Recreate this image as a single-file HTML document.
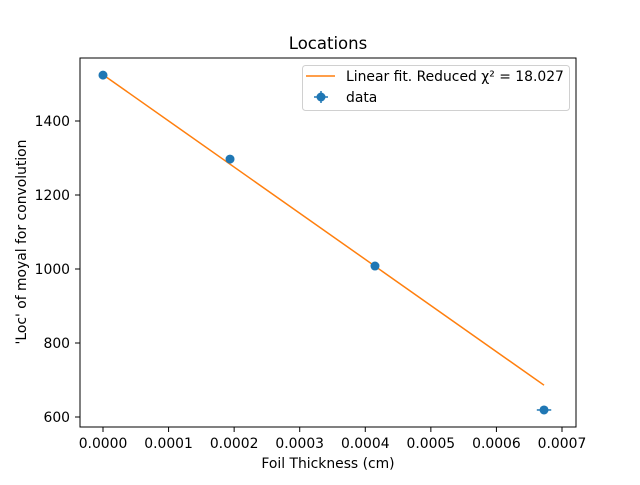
<!DOCTYPE html>
<html><head><meta charset="utf-8"><style>
body{margin:0;background:#fff}
svg text{font-family:"DejaVu Sans","Liberation Sans",sans-serif;fill:#000}
</style></head><body>
<svg id="chart" width="640" height="480" xmlns="http://www.w3.org/2000/svg">
<rect width="640" height="480" fill="#fff"/>
<g id="plot"></g>
<text x="328" y="49" font-size="16.5" text-anchor="middle">Locations</text>
<text x="328" y="468" font-size="13.9" text-anchor="middle">Foil Thickness (cm)</text>
<text transform="translate(26,242) rotate(-90)" font-size="13.9" text-anchor="middle">'Loc' of moyal for convolution</text>
<g>
<rect x="302.5" y="65.5" width="267" height="45" rx="3" fill="#fff" stroke="#ccc" opacity="0.9"/>
<line x1="306" y1="76" x2="335" y2="76" stroke="#ff7f0e" stroke-width="1.5"/>
<text x="346" y="81" font-size="13.9">Linear fit. Reduced χ² = 18.027</text>
<line x1="314" y1="97" x2="328" y2="97" stroke="#1f77b4" stroke-width="1.5"/>
<line x1="321" y1="91" x2="321" y2="103" stroke="#1f77b4" stroke-width="1.5"/>
<circle cx="321" cy="97" r="4.5" fill="#1f77b4"/>
<text x="346" y="102" font-size="13.9">data</text>
</g>
</svg>
<script>
const xs=[0,0.0001937,0.0004148,0.0006726];
const ys=[1524,1297,1008,619];
const xerr=[0.000001,0.000002,0.000004,0.000011];
const yerr=[4,4,4,4];
const fitX=[0,0.0006726];
const fitY=[1525,686];
const xTicks=[0,0.0001,0.0002,0.0003,0.0004,0.0005,0.0006,0.0007];
const xTickLabels=["0.0000","0.0001","0.0002","0.0003","0.0004","0.0005","0.0006","0.0007"];
const yTicks=[600,800,1000,1200,1400];
const L=80,R=576,T=58,B=427;
const sx=v=>103+v*655700;
const sy=v=>121+(1400-v)*0.37;
const g=document.getElementById('plot');
const NS='http://www.w3.org/2000/svg';
function mk(t,a){const e=document.createElementNS(NS,t);for(const k in a)e.setAttribute(k,a[k]);g.appendChild(e);return e;}
xTicks.forEach((v,i)=>{
const t=mk('line',{x1:sx(v),x2:sx(v),y1:B,y2:B+5,stroke:'#000'});


const l=mk('text',{x:sx(v),y:B+21,'font-size':13.9,'text-anchor':'middle'});l.textContent=xTickLabels[i];


});
yTicks.forEach(v=>{
const t=mk('line',{x1:L-5,x2:L,y1:sy(v),y2:sy(v),stroke:'#000'});


const l=mk('text',{x:L-10,y:sy(v)+5,'font-size':13.9,'text-anchor':'end'});l.textContent=v;


});
const fit=mk('line',{x1:sx(fitX[0]),y1:sy(fitY[0]),x2:sx(fitX[1]),y2:sy(fitY[1]),stroke:'#ff7f0e','stroke-width':1.5});


xs.forEach((x,i)=>{
const y=ys[i];
mk('line',{x1:sx(x-xerr[i]),x2:sx(x+xerr[i]),y1:sy(y),y2:sy(y),stroke:'#1f77b4','stroke-width':1.5});
mk('line',{x1:sx(x),x2:sx(x),y1:sy(y-yerr[i]),y2:sy(y+yerr[i]),stroke:'#1f77b4','stroke-width':1.5});
const c=mk('circle',{cx:sx(x),cy:sy(y),r:4.5,fill:'#1f77b4'});


});
const fr=mk('rect',{x:L,y:T,width:R-L,height:B-T,fill:'none',stroke:'#000','stroke-width':1});


</script>
</body></html>
